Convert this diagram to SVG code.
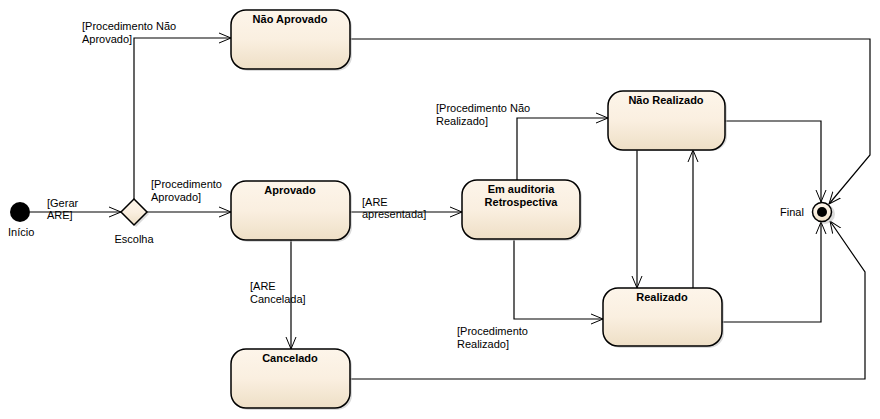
<svg xmlns="http://www.w3.org/2000/svg" width="880" height="419" viewBox="0 0 880 419">
<defs>
<linearGradient id="g" x1="0" y1="0" x2="0" y2="1">
<stop offset="0" stop-color="#fdf5ea"/>
<stop offset="0.5" stop-color="#faefe0"/>
<stop offset="1" stop-color="#eedfc6"/>
</linearGradient>
<marker id="a" viewBox="0 0 12 12" refX="12" refY="6" markerWidth="12" markerHeight="12" markerUnits="userSpaceOnUse" orient="auto">
<path d="M0,1 L12,6 L0,11" fill="none" stroke="#000" stroke-width="1"/>
</marker>
<style>
.n{fill:url(#g);stroke:#000;stroke-width:1.5}
.sh{fill:#b8b8b8;opacity:0.5}
.t{font-family:"Liberation Sans",Arial,sans-serif;font-size:11px;fill:#000}
.b{font-family:"Liberation Sans",Arial,sans-serif;font-size:11px;font-weight:bold;fill:#000;text-anchor:middle}
.c{fill:none;stroke:#000;stroke-width:1.2}
</style>
</defs>
<rect width="880" height="419" fill="#fff"/>
<g id="connectors">
<path class="c" d="M30,212 H121" marker-end="url(#a)"/>
<path class="c" d="M134,199 V38 H231" marker-end="url(#a)"/>
<path class="c" d="M147,212 H231" marker-end="url(#a)"/>
<path class="c" d="M350,212 H462" marker-end="url(#a)"/>
<path class="c" d="M291,240 V349" marker-end="url(#a)"/>
<path class="c" d="M517,180 V118 H608" marker-end="url(#a)"/>
<path class="c" d="M514,240 V319 H603" marker-end="url(#a)"/>
<path class="c" d="M637,150 V288" marker-end="url(#a)"/>
<path class="c" d="M693,288 V150" marker-end="url(#a)"/>
<path class="c" d="M350,39 H870 V155 L829,204" marker-end="url(#a)"/>
<path class="c" d="M725,121 H821 V202" marker-end="url(#a)"/>
<path class="c" d="M722,322 H821 V222" marker-end="url(#a)"/>
<path class="c" d="M350,379 H865 V272 L830,221" marker-end="url(#a)"/>
<text class="t" x="47" y="207">[Gerar</text>
<text class="t" x="47" y="219">ARE]</text>
<text class="t" x="82" y="30">[Procedimento Não</text>
<text class="t" x="82" y="43">Aprovado]</text>
<text class="t" x="151" y="188">[Procedimento</text>
<text class="t" x="151" y="201">Aprovado]</text>
<text class="t" x="362" y="206">[ARE</text>
<text class="t" x="362" y="218">apresentada]</text>
<text class="t" x="250" y="290">[ARE</text>
<text class="t" x="250" y="303">Cancelada]</text>
<text class="t" x="436" y="112">[Procedimento Não</text>
<text class="t" x="436" y="125">Realizado]</text>
<text class="t" x="457" y="335">[Procedimento</text>
<text class="t" x="457" y="348">Realizado]</text>
</g>
<g id="inicio">
<circle cx="20" cy="212" r="10" fill="#000"/>
<text class="t" x="8" y="236">Início</text>
</g>
<g id="escolha">
<path d="M136,201 L149,214 L136,227 L123,214 Z" class="sh"/>
<path d="M134,199 L147,212 L134,225 L121,212 Z" class="n" stroke-width="1"/>
<text class="t" x="134" y="243" text-anchor="middle">Escolha</text>
</g>
<g id="nao-aprovado">
<rect x="233" y="12" width="119" height="59" rx="15" class="sh"/>
<rect x="231" y="10" width="119" height="59" rx="15" class="n"/>
<text class="b" x="290" y="23">Não Aprovado</text>
</g>
<g id="aprovado">
<rect x="233" y="183" width="119" height="59" rx="15" class="sh"/>
<rect x="231" y="181" width="119" height="59" rx="15" class="n"/>
<text class="b" x="290" y="194">Aprovado</text>
</g>
<g id="cancelado">
<rect x="233" y="351" width="119" height="59" rx="15" class="sh"/>
<rect x="231" y="349" width="119" height="59" rx="15" class="n"/>
<text class="b" x="290" y="362">Cancelado</text>
</g>
<g id="em-auditoria">
<rect x="464" y="182" width="118" height="59" rx="15" class="sh"/>
<rect x="462" y="180" width="118" height="59" rx="15" class="n"/>
<text class="b" x="521" y="193">Em auditoria</text>
<text class="b" x="521" y="206">Retrospectiva</text>
</g>
<g id="nao-realizado">
<rect x="610" y="93" width="117" height="58" rx="15" class="sh"/>
<rect x="608" y="91" width="117" height="59" rx="15" class="n"/>
<text class="b" x="666" y="104">Não Realizado</text>
</g>
<g id="realizado">
<rect x="605" y="290" width="119" height="58" rx="15" class="sh"/>
<rect x="603" y="288" width="119" height="58" rx="15" class="n"/>
<text class="b" x="662" y="301">Realizado</text>
</g>
<g id="final">
<circle cx="825" cy="214" r="10" class="sh"/>
<circle cx="822" cy="212" r="9.5" class="n" stroke-width="1.2"/>
<circle cx="822" cy="212" r="5" fill="#000"/>
<text class="t" x="780" y="216">Final</text>
</g>
</svg>
